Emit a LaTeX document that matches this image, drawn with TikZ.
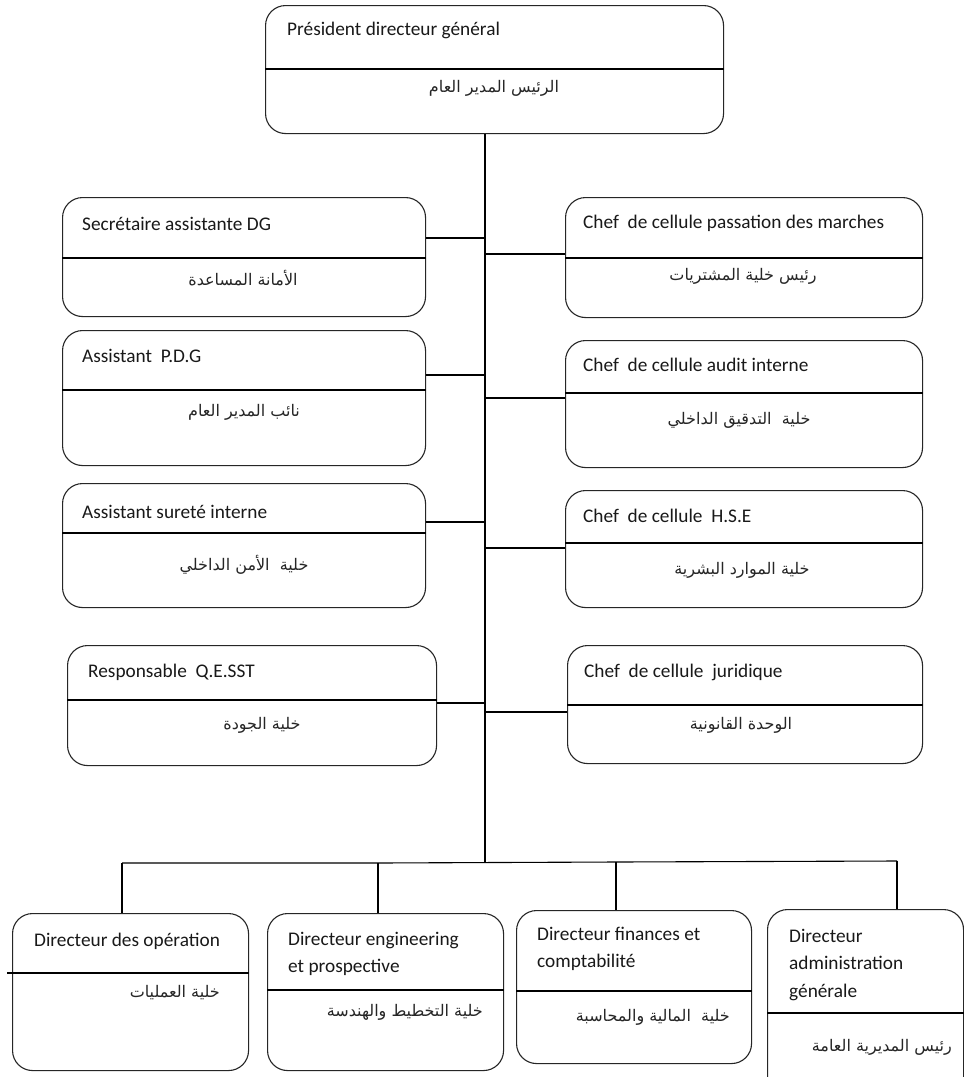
\documentclass[tikz,border=0pt]{standalone}
\usepackage{fontspec}
\setmainfont{Carlito}
\newfontfamily\arabicfont[Script=Arabic]{DejaVu Sans}
\TeXXeTstate=1
\newcommand{\ttlfont}{\fontsize{19.3}{27.5}\selectfont}
\newcommand{\arbfont}{\arabicfont\fontsize{16}{20}\selectfont}
\newcommand{\ar}[1]{\beginR #1\endR}
\begin{document}
\begin{tikzpicture}[x=1pt,y=-1pt,
  box/.style={draw=black!85, line width=1.1pt, rounded corners=20pt, inner sep=0pt, anchor=north west},
  ttl/.style={font=\ttlfont, text=black!90, anchor=north west, inner sep=0pt, align=left},
  arb/.style={font=\arbfont, text=black!85, inner sep=0pt},
  arbr/.style={font=\arbfont, text=black!85, inner sep=0pt, anchor=east},
  link/.style={line width=1.1pt},
  divl/.style={line width=1.1pt}]
\clip (0,0) rectangle (964,1077);
\fill[white] (0,0) rectangle (964,1077);

% boxes
\node[box, minimum width=458pt, minimum height=128pt] (pdg) at (265,5) {};
\node[box, minimum width=363pt, minimum height=119pt] (sec) at (62,197) {};
\node[box, minimum width=363pt, minimum height=135pt] (apdg) at (62,330) {};
\node[box, minimum width=363pt, minimum height=124pt] (sur) at (62,483) {};
\node[box, minimum width=369pt, minimum height=120pt] (qes) at (67,645) {};
\node[box, minimum width=357pt, minimum height=120pt] (pas) at (565,197) {};
\node[box, minimum width=357pt, minimum height=127pt] (aud) at (565,340) {};
\node[box, minimum width=357pt, minimum height=117pt] (hse) at (565,490) {};
\node[box, minimum width=355pt, minimum height=118pt] (jur) at (567,645) {};
\node[box, minimum width=236pt, minimum height=157pt] (b1) at (12,913) {};
\node[box, minimum width=236pt, minimum height=157pt] (b2) at (267,913) {};
\node[box, minimum width=235pt, minimum height=153pt] (b3) at (516,910) {};
\node[box, minimum width=196pt, minimum height=190pt] (b4) at (767,909) {};

% dividers
\draw[divl] (pdg.west |- 0,69) -- (pdg.east |- 0,69);
\draw[divl] (sec.west |- 0,258) -- (sec.east |- 0,258);
\draw[divl] (apdg.west |- 0,390) -- (apdg.east |- 0,390);
\draw[divl] (sur.west |- 0,533) -- (sur.east |- 0,533);
\draw[divl] (qes.west |- 0,700) -- (qes.east |- 0,700);
\draw[divl] (pas.west |- 0,258) -- (pas.east |- 0,258);
\draw[divl] (aud.west |- 0,393) -- (aud.east |- 0,393);
\draw[divl] (hse.west |- 0,543) -- (hse.east |- 0,543);
\draw[divl] (jur.west |- 0,705) -- (jur.east |- 0,705);
\draw[divl] (7,973) -- (b1.east |- 0,973);
\draw[divl] (b2.west |- 0,990) -- (b2.east |- 0,990);
\draw[divl] (b3.west |- 0,991) -- (b3.east |- 0,991);
\draw[divl] (b4.west |- 0,1013) -- (b4.east |- 0,1013);

% titles
\node[ttl] (tpdg) at (287,16) {\strut Président directeur général};
\node[ttl] (tsec) at (82,211) {\strut Secrétaire assistante DG};
\node[ttl] (tapdg) at (82,343) {\strut Assistant~~P.D.G};
\node[ttl] (tsur) at (82,499) {\strut Assistant sureté interne};
\node[ttl] (tqes) at (88,658) {\strut Responsable~~Q.E.SST};
\node[ttl] (tpas) at (583,209) {\strut Chef~~de cellule passation des marches};
\node[ttl] (taud) at (583,352) {\strut Chef~~de cellule audit interne};
\node[ttl] (thse) at (583,503) {\strut Chef~~de cellule~~H.S.E};
\node[ttl] (tjur) at (584,658) {\strut Chef~~de cellule~~juridique};
\node[ttl] (tb1) at (34,927) {\strut Directeur des opération};
\node[ttl] (tb2) at (288,926) {\strut Directeur engineering\\et prospective};
\node[ttl] (tb3) at (537,921) {\strut Directeur finances et\\comptabilité};
\node[ttl] (tb4) at (789,923) {\strut Directeur\\administration\\générale};

% arabic
\node[arb] (apdgt) at (494,88) {\ar{الرئيس المدير العام}};
\node[arb] (asec) at (243,278) {\ar{الأمانة المساعدة}};
\node[arb] (aapdg) at (244,412) {\ar{نائب المدير العام}};
\node[arb] (asur) at (244,565) {\ar{خلية~~الأمن الداخلي}};
\node[arb] (aqes) at (262,725) {\ar{خلية الجودة}};
\node[arb] (apas) at (743,276) {\ar{رئيس خلية المشتريات}};
\node[arb] (aaud) at (739,420) {\ar{خلية~~التدقيق الداخلي}};
\node[arb] (ahse) at (742,570) {\ar{خلية الموارد البشرية}};
\node[arb] (ajur) at (741,725) {\ar{الوحدة القانونية}};
\node[arbr] (ab1) at (220,993) {\ar{خلية العمليات}};
\node[arbr] (ab2) at (483,1012) {\ar{خلية التخطيط والهندسة}};
\node[arbr] (ab3) at (730,1017) {\ar{خلية~~المالية والمحاسبة}};
\node[arbr] (ab4) at (952,1047) {\ar{رئيس المديرية العامة}};

% connectors
\coordinate (bus) at (485,862);
\coordinate (d1) at (122,863);
\coordinate (d2) at (378,863);
\coordinate (d3) at (616,862);
\coordinate (d4) at (897,861);
\draw[link] (pdg.south -| bus) -- (bus);
\draw[link] (sec.east |- 0,238) -- (bus |- 0,238);
\draw[link] (apdg.east |- 0,375) -- (bus |- 0,375);
\draw[link] (sur.east |- 0,522) -- (bus |- 0,522);
\draw[link] (qes.east |- 0,703) -- (bus |- 0,703);
\draw[link] (pas.west |- 0,254) -- (bus |- 0,254);
\draw[link] (aud.west |- 0,398) -- (bus |- 0,398);
\draw[link] (hse.west |- 0,548) -- (bus |- 0,548);
\draw[link] (jur.west |- 0,712) -- (bus |- 0,712);
\draw[link] (d1) -- (d2) -- (d3) -- (d4);
\draw[link] (d1) -- (b1.north -| d1);
\draw[link] (d2) -- (b2.north -| d2);
\draw[link] (d3) -- (b3.north -| d3);
\draw[link] (d4) -- (b4.north -| d4);
\end{tikzpicture}
\end{document}
